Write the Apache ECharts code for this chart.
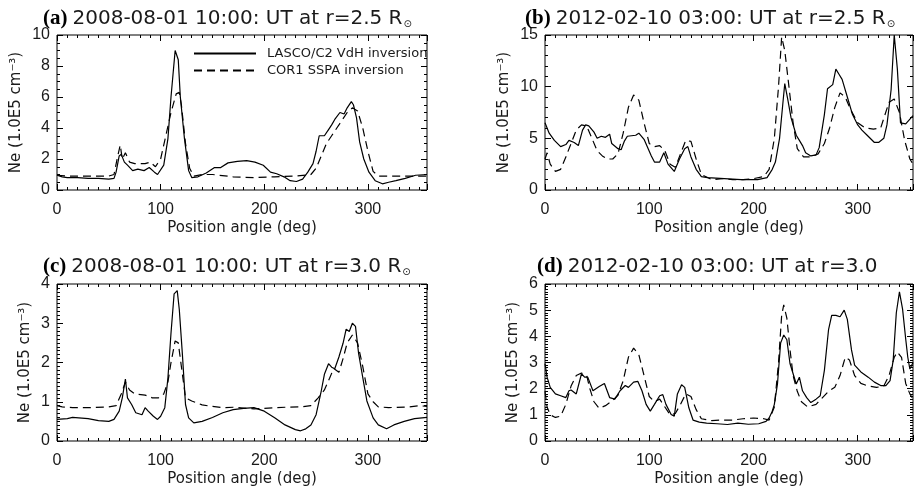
<!DOCTYPE html>
<html>
<head>
<meta charset="utf-8">
<script src="https://cdn.jsdelivr.net/npm/echarts@6/dist/echarts.min.js"></script>
<style>html,body{margin:0;padding:0;background:#fff}#c{width:918px;height:490px}</style>
</head>
<body>
<div id="c"></div>
<script>
// ---------- DATA ----------
const xTicks = [0, 100, 200, 300];
const seriesNames = ['LASCO/C2 VdH inversion', 'COR1 SSPA inversion'];
const titlesText = [
  ['(a)', '2008-08-01 10:00: UT at r=2.5 R', true],
  ['(b)', '2012-02-10 03:00: UT at r=2.5 R', true],
  ['(c)', '2008-08-01 10:00: UT at r=3.0 R', true],
  ['(d)', '2012-02-10 03:00: UT at r=3.0', false]
];

// Panel (a)
const aSolidPA = [0,5,10,20,30,40,50,55,57,60,62,65,68,73,78,84,89,94,97,103,107,110,114,117,119,123,127,130,136,144,152,158,165,174,183,191,199,206,212,219,225,231,237,242,247,250,253,258,262,265,268,273,277,280,284,286,289,292,296,301,307,314,320,327,336,346,357];
const aSolidNe = [0.95,0.85,0.8,0.8,0.75,0.75,0.7,0.75,1.15,2.2,2.3,1.8,1.6,1.25,1.35,1.25,1.45,1.15,1.0,1.6,3.3,6.0,9.0,8.4,6.0,3.3,1.25,0.8,0.85,1.1,1.45,1.45,1.75,1.85,1.9,1.8,1.6,1.15,1.05,0.85,0.6,0.55,0.7,1.15,1.7,2.5,3.5,3.5,3.9,4.2,4.55,5.0,4.9,5.3,5.7,5.5,4.65,3.1,2.0,1.15,0.6,0.4,0.5,0.6,0.75,0.95,1.0];
const aDashPA = [0,10,30,50,55,58,61,63,66,70,75,85,90,95,100,105,110,115,118,120,124,128,132,140,150,170,190,210,230,245,250,255,260,265,270,275,280,285,290,295,300,305,310,320,340,357];
const aDashNe = [0.95,0.9,0.9,0.9,1.0,2.0,2.9,2.0,2.4,1.8,1.7,1.7,1.8,1.5,2.0,3.5,5.0,6.2,6.3,5.5,3.0,1.4,0.9,1.0,1.0,0.85,0.8,0.85,0.9,1.0,1.4,2.2,3.0,3.5,4.0,4.5,5.0,5.3,5.1,4.0,2.5,1.2,0.9,0.9,0.9,0.9];

// Panel (b)
const bSolidPA = [0,4,9,15,20,23,28,32,36,39,42,47,50,54,58,62,64,70,73,76,79,87,90,95,102,105,110,114,118,124,129,134,137,140,145,150,156,172,188,204,213,218,221,225,228,230,233,236,241,244,247,250,255,260,263,268,271,276,279,282,285,290,295,300,304,309,316,320,325,328,332,335,338,341,346,353];
const bSolidNe = [6.5,5.5,4.8,4.2,4.4,4.8,4.6,4.3,5.8,6.3,6.2,5.6,5.0,5.2,5.1,5.4,4.5,4.0,3.9,4.7,5.2,5.3,5.5,4.9,3.3,2.7,2.7,3.6,2.5,1.8,3.0,4.0,4.2,3.2,2.0,1.3,1.2,1.1,1.0,1.0,1.2,2.0,2.7,5.0,8.2,10.3,8.7,7.0,5.3,4.8,4.3,3.6,3.3,3.4,4.1,7.3,9.8,10.2,11.7,11.2,10.7,9.0,7.3,6.3,5.8,5.3,4.6,4.6,5.0,6.3,9.7,15.0,11.7,6.5,6.4,7.2];
const bDashPA = [0,2,5,10,15,20,25,30,35,40,45,50,55,60,65,70,75,80,85,90,95,100,105,110,115,120,125,130,135,140,145,150,160,170,180,190,200,210,215,220,224,227,230,234,238,242,248,255,262,268,273,278,283,288,293,300,307,315,322,330,335,340,345,350,353];
const bDashNe = [3.0,3.6,2.5,1.8,2.0,3.2,4.5,5.8,6.3,6.2,5.0,3.8,3.3,3.0,3.0,3.5,5.5,8.0,9.2,8.7,6.5,4.5,4.2,4.3,3.8,2.5,2.2,3.5,4.8,4.7,3.0,1.5,1.0,1.1,1.0,1.0,1.1,1.3,2.0,5.0,10.0,14.8,13.5,10.0,6.5,4.0,3.2,3.2,3.5,4.5,6.0,8.0,9.4,9.0,7.8,6.5,6.0,5.9,6.0,8.5,8.8,7.5,4.8,3.0,2.5];

// Panel (c)
const cSolidPA = [0,10,15,30,40,50,55,60,63,66,68,72,76,82,85,88,93,97,100,104,107,110,113,116,118,121,124,127,132,140,150,160,170,180,190,200,210,220,230,235,240,245,250,255,258,262,265,268,272,276,279,282,285,288,291,295,299,305,310,318,325,335,345,357];
const cSolidNe = [0.55,0.57,0.6,0.57,0.52,0.5,0.55,0.76,1.1,1.58,1.1,0.93,0.72,0.67,0.85,0.76,0.63,0.55,0.63,0.85,1.6,2.75,3.75,3.83,3.35,2.2,0.93,0.59,0.46,0.5,0.6,0.72,0.8,0.83,0.85,0.76,0.59,0.41,0.29,0.26,0.31,0.41,0.67,1.28,1.7,1.97,1.88,1.84,2.14,2.49,2.85,2.79,3.0,2.92,2.23,1.62,1.02,0.59,0.41,0.31,0.41,0.5,0.57,0.6];
const cDashPA = [0,5,15,30,50,57,62,66,70,75,85,92,98,103,107,110,114,117,120,124,130,140,150,160,170,180,190,200,210,220,235,245,252,258,263,267,272,276,280,285,290,295,300,305,310,320,340,350,357];
const cDashNe = [0.9,0.87,0.85,0.85,0.87,0.9,1.2,1.5,1.3,1.2,1.17,1.1,1.1,1.2,1.5,2.0,2.55,2.5,1.9,1.1,1.02,0.92,0.88,0.85,0.86,0.84,0.82,0.83,0.85,0.86,0.87,0.9,1.1,1.3,1.6,1.85,1.75,2.1,2.5,2.7,2.5,1.9,1.2,1.0,0.87,0.85,0.87,0.9,0.88];

// Panel (d)
const dSolidPA = [0,2,5,10,15,20,23,25,30,35,38,41,46,52,57,62,67,72,77,80,85,89,93,97,101,105,110,113,116,121,124,127,131,134,138,142,148,155,165,175,185,195,205,212,215,218,220,223,226,229,232,235,238,241,244,247,251,255,260,264,268,272,275,279,283,287,290,294,297,303,310,316,322,327,331,334,337,340,343,346,348,350,353];
const dSolidNe = [2.96,2.44,2.05,1.8,1.73,1.66,1.92,1.95,1.8,2.57,2.44,2.44,1.92,2.08,2.2,1.66,1.6,1.92,2.12,2.05,2.25,2.28,1.92,1.4,1.14,1.4,1.73,1.77,1.4,1.01,0.95,1.8,2.15,2.05,1.27,0.8,0.72,0.68,0.66,0.63,0.68,0.64,0.66,0.75,0.88,1.14,1.4,2.18,3.74,4.05,3.87,2.96,2.57,2.18,2.44,1.92,1.66,1.47,1.6,1.73,2.7,4.26,4.8,4.8,4.75,5.0,4.65,3.48,2.9,2.64,2.44,2.25,2.12,2.12,2.31,3.09,4.9,5.7,5.04,3.9,3.2,2.75,3.0];
const dDashPA = [0,2,5,10,15,20,25,30,35,40,43,47,52,58,65,70,75,80,85,90,95,100,105,110,115,120,125,130,135,140,145,150,160,170,180,190,200,210,215,220,224,227,229,232,235,238,242,246,252,260,266,272,278,283,288,292,297,303,310,318,325,330,335,338,342,346,350,353];
const dDashNe = [1.9,1.3,1.0,0.9,0.95,1.4,2.1,2.5,2.6,2.5,2.0,1.5,1.25,1.35,1.55,1.75,2.3,3.2,3.55,3.3,2.5,1.7,1.5,1.6,1.3,1.0,1.05,1.4,1.8,1.7,1.2,0.85,0.78,0.8,0.8,0.85,0.88,0.85,0.8,1.3,3.0,4.8,5.2,4.7,3.5,2.5,1.9,1.5,1.3,1.4,1.65,1.9,2.05,2.5,3.2,3.1,2.5,2.2,2.1,2.05,2.1,2.5,3.2,3.4,3.2,2.2,1.8,1.6];

// ---------- LAYOUT / STYLE ----------
const FONT = '"Liberation Sans", Arial, sans-serif';
const FONT2 = '"DejaVu Sans", sans-serif';
const TXT = '#1a1a1a';
const panels = [
  {grid:{left:57, top:35, width:370, height:155}, xMax:357, yMax:10, yInt:2, yMinor:4, nameGap:33,
   s:[aSolidPA,aSolidNe], d:[aDashPA,aDashNe], title:{left:38, top:3}},
  {grid:{left:545, top:35, width:368, height:155}, xMax:353, yMax:15, yInt:5, yMinor:5, nameGap:33,
   s:[bSolidPA,bSolidNe], d:[bDashPA,bDashNe], title:{left:520, top:3}},
  {grid:{left:57, top:284, width:370, height:157}, xMax:357, yMax:4, yInt:1, yMinor:10, nameGap:24,
   s:[cSolidPA,cSolidNe], d:[cDashPA,cDashNe], title:{left:38, top:251}},
  {grid:{left:545, top:284, width:368, height:157}, xMax:353, yMax:6, yInt:1, yMinor:10, nameGap:24,
   s:[dSolidPA,dSolidNe], d:[dDashPA,dDashNe], title:{left:532, top:251}}
];

const grids = [], xAxes = [], yAxes = [], series = [], titles = [];
const zip = (xs, ys) => xs.map((x, i) => [x, ys[i]]);

panels.forEach((p, gi) => {
  grids.push(Object.assign({show:true, borderColor:'#000', borderWidth:1, backgroundColor:'transparent'}, p.grid));
  const base = {gridIndex:gi, type:'value', min:0, max:p.xMax, splitLine:{show:false},
                axisLine:{show:false, onZero:false}};
  const xi = xAxes.length;
  xAxes.push(Object.assign({}, base, {position:'bottom', interval:100,
    axisTick:{show:true, inside:true, length:6, lineStyle:{color:'#000'}},
    axisLabel:{show:true, margin:12, fontSize:16, fontFamily:FONT, color:TXT,
      formatter: v => (xTicks.indexOf(v) >= 0 ? String(v) : '')},
    name:'Position angle (deg)', nameLocation:'middle', nameGap:31,
    nameTextStyle:{fontSize:15, fontFamily:FONT2, color:TXT}}));
  xAxes.push(Object.assign({}, base, {position:'bottom', interval:10,
    axisTick:{show:true, inside:true, length:3, lineStyle:{color:'#000'}}, axisLabel:{show:false}}));
  xAxes.push(Object.assign({}, base, {position:'top', interval:100,
    axisTick:{show:true, inside:true, length:6, lineStyle:{color:'#000'}}, axisLabel:{show:false}}));
  xAxes.push(Object.assign({}, base, {position:'top', interval:10,
    axisTick:{show:true, inside:true, length:3, lineStyle:{color:'#000'}}, axisLabel:{show:false}}));

  const yi = yAxes.length;
  const ybase = {gridIndex:gi, type:'value', min:0, max:p.yMax, interval:p.yInt, splitLine:{show:false},
    axisLine:{show:false, onZero:false},
    axisTick:{show:true, inside:true, length:6, lineStyle:{color:'#000'}},
    minorTick:{show:true, splitNumber:p.yMinor, length:3, lineStyle:{color:'#000'}},
    minorSplitLine:{show:false}};
  yAxes.push(Object.assign({}, ybase, {position:'left',
    axisLabel:{show:true, margin:7, fontSize:16, fontFamily:FONT, color:TXT},
    name:'Ne (1.0E5 cm⁻³)', nameLocation:'middle', nameGap:p.nameGap,
    nameTextStyle:{fontSize:15, fontFamily:FONT2, color:TXT}}));
  yAxes.push(Object.assign({}, ybase, {position:'right', axisLabel:{show:false}}));

  series.push({type:'line', name:seriesNames[0], xAxisIndex:xi, yAxisIndex:yi, data:zip(p.s[0], p.s[1]),
    showSymbol:false, symbol:'none', lineStyle:{color:'#000', width:1.2, type:'solid'}, itemStyle:{color:'#000'}, silent:true, animation:false});
  series.push({type:'line', name:seriesNames[1], xAxisIndex:xi, yAxisIndex:yi, data:zip(p.d[0], p.d[1]),
    showSymbol:false, symbol:'none', lineStyle:{color:'#000', width:1.2, type:[8,5]}, itemStyle:{color:'#000'}, silent:true, animation:false});

  const t = titlesText[gi];
  titles.push({left:p.title.left, top:p.title.top,
    text: '{p|' + t[0] + '} {t|' + t[1] + '}' + (t[2] ? '{s|⊙}' : ''),
    textStyle:{fontWeight:'normal', rich:{
      p:{fontFamily:'"Liberation Serif", "Times New Roman", serif', fontWeight:'bold', fontSize:21, color:'#000'},
      t:{fontFamily:FONT2, fontWeight:'normal', fontSize:20, color:TXT},
      s:{fontFamily:FONT2, fontWeight:'normal', fontSize:10, color:TXT, verticalAlign:'bottom', padding:[8,0,0,1]}
    }}});
});

const chart = echarts.init(document.getElementById('c'), null, {renderer:'canvas'});
chart.setOption({
  animation:false,
  backgroundColor:'#fff',
  title: titles,
  legend: {show:true, data:seriesNames, orient:'vertical', left:188, top:42, itemWidth:62, itemHeight:14, itemGap:4,
    selectedMode:false,
    itemStyle:{color:'transparent', borderColor:'transparent', borderWidth:0},
    textStyle:{fontSize:13, fontFamily:FONT2, color:TXT, padding:[0,0,0,6]}},
  grid: grids,
  xAxis: xAxes,
  yAxis: yAxes,
  series: series
});
</script>
</body>
</html>
